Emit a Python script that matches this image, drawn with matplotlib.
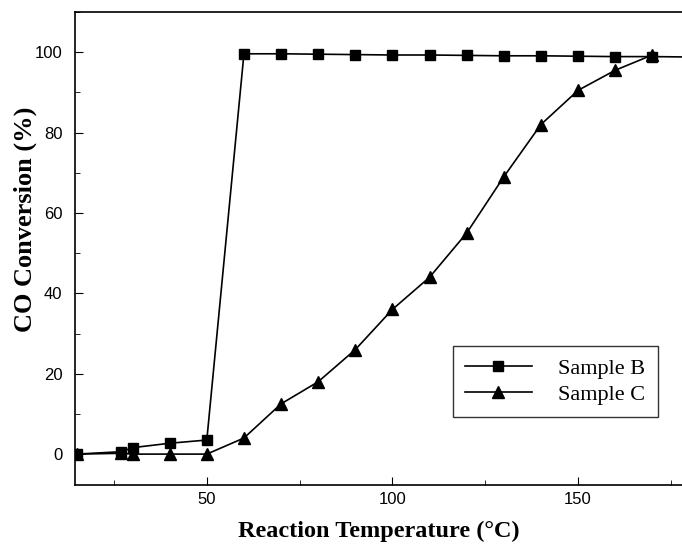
import matplotlib.pyplot as plt
from matplotlib.ticker import MultipleLocator

temp = [15, 27, 30, 40, 50, 60, 70, 80, 90, 100, 110, 120, 130, 140, 150, 160, 170, 180]
sample_b = [0, 0.6, 1.6, 2.7, 3.5, 99.6, 99.6, 99.5, 99.4, 99.3, 99.3, 99.2, 99.1, 99.1, 99.0, 98.9, 98.9, 98.8]
temp_c = [15, 27, 30, 40, 50, 60, 70, 80, 90, 100, 110, 120, 130, 140, 150, 160, 170]
sample_c = [0, 0.2, 0, 0, 0, 4, 12.5, 18, 26, 36, 44, 55, 69, 82, 90.5, 95.5, 99.3]

serif = ['Liberation Serif', 'DejaVu Serif']
sans = ['Liberation Sans', 'DejaVu Sans']

fig = plt.figure(figsize=(6.82, 5.45), dpi=100)
ax = fig.add_axes([0.110, 0.110, 0.89, 0.868])

ax.plot(temp, sample_b, color='black', lw=1.2, marker='s', ms=6.5, label='Sample B')
ax.plot(temp_c, sample_c, color='black', lw=1.2, marker='^', ms=9, label='Sample C')

ax.set_xlim(14.5, 178)
ax.set_ylim(-7.7, 110)
ax.xaxis.set_major_locator(MultipleLocator(50))
ax.xaxis.set_minor_locator(MultipleLocator(25))
ax.yaxis.set_major_locator(MultipleLocator(20))
ax.yaxis.set_minor_locator(MultipleLocator(10))
ax.tick_params(which='both', direction='in', top=False, right=False)
ax.tick_params(which='major', length=6, labelsize=12, pad=9)
ax.tick_params(axis='x', which='major', pad=5)
ax.tick_params(which='minor', length=3.5)
for lab in ax.get_xticklabels() + ax.get_yticklabels():
    lab.set_family(sans)
ax.spines['right'].set_visible(False)
for s in ax.spines.values():
    s.set_linewidth(1.2)

ax.set_xlabel('Reaction Temperature (°C)', family=serif, fontweight='bold', fontsize=17.5, labelpad=10)
ax.set_ylabel('CO Conversion (%)', family=serif, fontweight='bold', fontsize=19)
ax.yaxis.set_label_coords(-0.062, 0.562)

leg = ax.legend(loc='lower right', bbox_to_anchor=(0.96, 0.144), borderaxespad=0,
                prop={'family': serif, 'size': 16},
                frameon=True, fancybox=False, edgecolor='black', handlelength=3.0,
                borderpad=0.55, labelspacing=0.25, handletextpad=1.2)
leg.get_frame().set_linewidth(1.0)

fig.savefig('out.png', dpi=100)
